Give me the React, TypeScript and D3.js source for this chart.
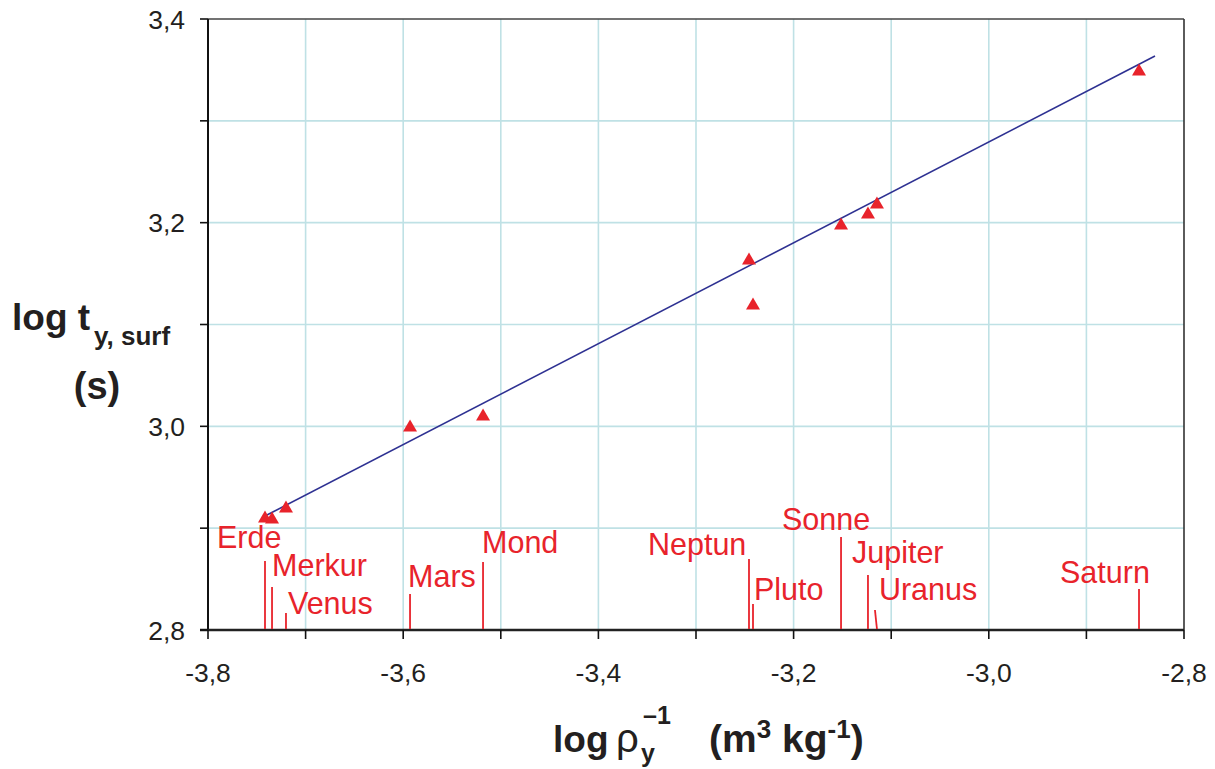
import React from "react";
import * as d3 from "d3";

const planets = ["Erde", "Merkur", "Venus", "Mars", "Mond", "Neptun", "Pluto", "Sonne", "Jupiter", "Uranus", "Saturn"];
const logInvRho = [-3.7416, -3.7344, -3.7201, -3.593, -3.5182, -3.2457, -3.2416, -3.1514, -3.1238, -3.1146, -2.8461];
const logT = [2.911, 2.91, 2.9208, 3.0003, 3.0111, 3.1643, 3.1201, 3.1987, 3.2095, 3.2193, 3.3499];
// trend line: logT = a + b * logInvRho
const trendA = 4.7655;
const trendB = 0.4954;
const trendRange = [-3.7416, -2.8297];

const xTickValues = [-3.8, -3.6, -3.4, -3.2, -3.0, -2.8];
const yTickValues = [2.8, 3.0, 3.2, 3.4];

// label layout (pixels): text offset from point x, text baseline, leader top, leader top x offset
const labelLayout: Record<string, { dx: number; by: number; top: number; slant?: number }> = {
  Erde: { dx: -48, by: 548, top: 561 },
  Merkur: { dx: 0, by: 576, top: 587 },
  Venus: { dx: 2, by: 614, top: 613 },
  Mars: { dx: -2, by: 587, top: 594 },
  Mond: { dx: -1, by: 553, top: 562 },
  Neptun: { dx: -101, by: 555, top: 559 },
  Pluto: { dx: 1, by: 600, top: 604 },
  Sonne: { dx: -59, by: 530, top: 537 },
  Jupiter: { dx: -16, by: 563, top: 575 },
  Uranus: { dx: 2, by: 600, top: 610, slant: -2 },
  Saturn: { dx: -79, by: 583, top: 589 },
};

const W = 1215;
const H = 769;
const left = 208;
const right = 1184;
const top = 19;
const bottom = 630;
const RED = "#e8232b";
const GRID = "#bfe1e5";
const FONT = "'Liberation Sans', Arial, Helvetica, sans-serif";

export default function App() {
  const x = d3.scaleLinear().domain([-3.8, -2.8]).range([left, right]);
  const y = d3.scaleLinear().domain([2.8, 3.4]).range([bottom, top]);
  const minorX = d3.range(0, 11).map((i) => -3.8 + i * 0.1);
  const minorY = d3.range(0, 7).map((i) => 2.8 + i * 0.1);
  const fmt = (v: number) => d3.format(".1f")(v).replace(".", ",").replace("−", "-");

  const trend = d3
    .line<number>()
    .x((d) => x(d))
    .y((d) => y(trendA + trendB * d))(trendRange);

  const tri = (cx: number, cy: number) =>
    `M${cx - 7},${cy + 5.5}L${cx + 7},${cy + 5.5}L${cx},${cy - 6.5}Z`;

  return (
    <svg
      width={W}
      height={H}
      style={{ position: "absolute", left: 0, top: 0, background: "#fff" }}
      fontFamily={FONT}
    >
      {/* grid */}
      {minorX.slice(1, -1).map((v, i) => (
        <line key={"gx" + i} x1={x(v)} x2={x(v)} y1={top} y2={bottom} stroke={GRID} strokeWidth={1.6} />
      ))}
      {minorY.slice(1, -1).map((v, i) => (
        <line key={"gy" + i} x1={left} x2={right} y1={y(v)} y2={y(v)} stroke={GRID} strokeWidth={1.6} />
      ))}
      {/* frame */}
      <line x1={left} x2={right} y1={top} y2={top} stroke="#444" strokeWidth={1.6} />
      <line x1={right} x2={right} y1={top} y2={bottom} stroke="#333" strokeWidth={1.6} />
      <line x1={left} x2={left} y1={top} y2={bottom} stroke="#111" strokeWidth={2} />
      <line x1={left - 8} x2={right} y1={bottom} y2={bottom} stroke="#222" strokeWidth={2.4} />
      {/* ticks */}
      {minorY.map((v, i) => (
        <line key={"ty" + i} x1={left - 8} x2={left} y1={y(v)} y2={y(v)} stroke="#111" strokeWidth={1.6} />
      ))}
      {minorX.map((v, i) => (
        <line key={"tx" + i} x1={x(v)} x2={x(v)} y1={bottom} y2={bottom + 9} stroke="#111" strokeWidth={1.6} />
      ))}
      {yTickValues.map((v, i) => (
        <text key={"ly" + i} x={185} y={y(v)} dy="0.36em" textAnchor="end" fontSize={26.5} fill="#231f20">
          {fmt(v)}
        </text>
      ))}
      {xTickValues.map((v, i) => (
        <text key={"lx" + i} x={x(v)} y={682} textAnchor="middle" fontSize={26.5} fill="#231f20">
          {fmt(v)}
        </text>
      ))}
      {/* leader lines & labels */}
      {planets.map((p, i) => {
        const L = labelLayout[p];
        const px = x(logInvRho[i]);
        return (
          <g key={"lab" + p}>
            <line x1={px + (L.slant || 0)} x2={px} y1={L.top} y2={bottom - 1} stroke={RED} strokeWidth={1.8} />
            <text x={px + L.dx} y={L.by} fontSize={30.5} fill={RED}>
              {p}
            </text>
          </g>
        );
      })}
      {/* trend line */}
      <path d={trend || ""} fill="none" stroke="#2e3192" strokeWidth={1.6} />
      {/* points */}
      {planets.map((p, i) => (
        <path key={"pt" + p} d={tri(x(logInvRho[i]), y(logT[i]))} fill={RED} />
      ))}
      {/* y title */}
      <g fill="#231f20" fontWeight="bold">
        <text x={12} y={330} fontSize={37}>log t</text>
        <text x={94} y={345} fontSize={26}>y, surf</text>
        <text x={97} y={399} fontSize={38} textAnchor="middle">(s)</text>
      </g>
      {/* x title */}
      <g fill="#231f20" fontWeight="bold">
        <text x={553} y={752} fontSize={37}>log</text>
        <text x={616} y={752} fontSize={40} fontWeight="normal">ρ</text>
        <text x={641} y={762} fontSize={25}>y</text>
        <text x={643} y={724} fontSize={25}>–1</text>
        <text x={709} y={752} fontSize={39}>
          (m<tspan fontSize={26} dy={-14}>3</tspan>
          <tspan dy={14}> kg</tspan>
          <tspan fontSize={26} dy={-14}>-1</tspan>
          <tspan dy={14}>)</tspan>
        </text>
      </g>
    </svg>
  );
}
